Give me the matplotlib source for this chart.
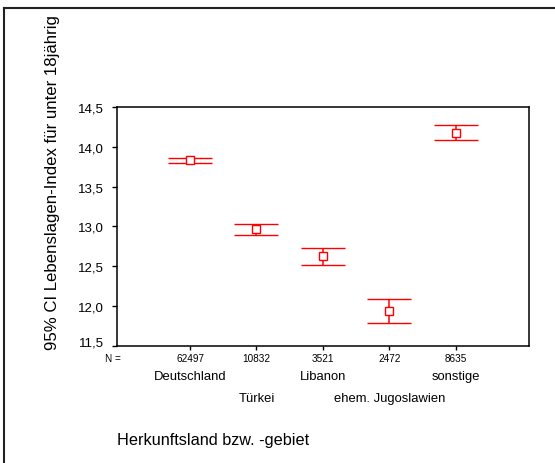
import matplotlib
matplotlib.use('Agg')
import matplotlib.pyplot as plt
from matplotlib.lines import Line2D
from matplotlib.transforms import blended_transform_factory, ScaledTranslation

plt.rcParams['font.family'] = ['Liberation Sans', 'DejaVu Sans']

# values (SPSS error bar chart)
categories = ['Deutschland', 'Türkei', 'Libanon', 'ehem. Jugoslawien', 'sonstige']
n_values = [62497, 10832, 3521, 2472, 8635]
means = [13.84, 12.97, 12.63, 11.94, 14.17]
ci_low = [13.80, 12.89, 12.51, 11.78, 14.08]
ci_high = [13.86, 13.03, 12.73, 12.09, 14.27]
y_ticks = [11.5, 12.0, 12.5, 13.0, 13.5, 14.0, 14.5]
y_tick_labels = ['11,5', '12,0', '12,5', '13,0', '13,5', '14,0', '14,5']

W, H = 555, 464
fig = plt.figure(figsize=(W / 100, H / 100), dpi=100)
ax = fig.add_axes([116.7 / W, 1 - 346.7 / H, (529 - 116.7) / W, (346.7 - 108) / H])

pos = list(range(1, len(categories) + 1))
yerr = [[m - lo for m, lo in zip(means, ci_low)],
        [hi - m for m, hi in zip(means, ci_high)]]
ax.errorbar(pos, means, yerr=yerr, fmt='s', color='red', ecolor='red',
            mfc='white', mec='red', ms=6, mew=1.0, elinewidth=1.1,
            capsize=15.8, capthick=1.1, zorder=3)

ax.set_xlim(-0.107, 6.107)
ax.set_ylim(11.5, 14.5)
ax.set_yticks(y_ticks)
ax.set_yticklabels(y_tick_labels)
ax.set_xticks(pos)
ax.set_xticklabels([''] * len(pos))
ax.tick_params(axis='y', direction='out', length=3.6, width=1.0, pad=5.5, labelsize=9.5)
ax.tick_params(axis='x', direction='out', length=3, width=1.0)
# the lowest label sits a little higher, as in the reference
lab0 = ax.get_yticklabels()[0]
lab0.set_transform(lab0.get_transform() + ScaledTranslation(0, 5 / 100, fig.dpi_scale_trans))
for s in ax.spines.values():
    s.set_linewidth(1.1)
    s.set_color('black')

tr = blended_transform_factory(ax.transData, ax.transAxes)
for i, (p, n, c) in enumerate(zip(pos, n_values, categories)):
    ax.text(p, -0.0515, str(n), transform=tr, ha='center', va='center', fontsize=7.2)
    row_y = -0.127 if i % 2 == 0 else -0.219
    ax.text(p, row_y, c, transform=tr, ha='center', va='center', fontsize=9.4)

fig.text(112.7 / W, 1 - 359 / H, 'N =', ha='center', va='center', fontsize=7.2)
fig.text(116.7 / W, 1 - 441 / H, 'Herkunftsland bzw. -gebiet',
         ha='left', va='center', fontsize=11.7)
fig.text(53 / W, 1 - 350 / H, '95% CI Lebenslagen-Index für unter 18jährig',
         rotation=90, ha='center', va='bottom', fontsize=12.1)

# outer frame (only top and left edges visible in the picture)
fig.add_artist(Line2D([4 / W, 4 / W], [0, 1 - 9 / H], color='#222222', lw=1.5))
fig.add_artist(Line2D([4 / W, 1], [1 - 9 / H, 1 - 9 / H], color='#222222', lw=1.5))

fig.savefig('out.png', dpi=100)
